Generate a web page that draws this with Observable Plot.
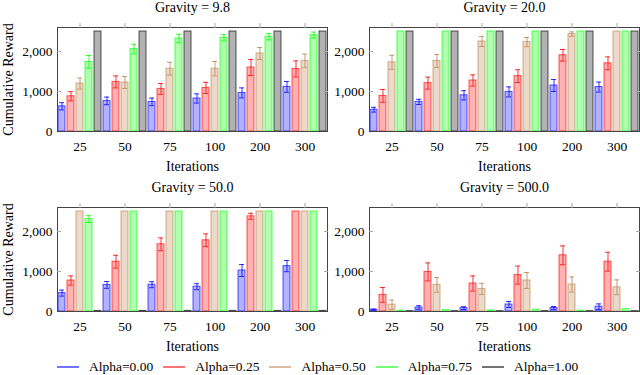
<!DOCTYPE html>
<html><head><meta charset="utf-8">
<script src="https://cdn.jsdelivr.net/npm/d3@7"></script>
<script src="https://cdn.jsdelivr.net/npm/@observablehq/plot@0.6"></script>
<style>
body{margin:0;background:#fff;}
#chart{position:relative;width:640px;height:375px;overflow:hidden;font-family:"Liberation Serif",serif;background:#fff;}
.panel{position:absolute;}
#legend{position:absolute;left:57px;top:358px;height:18px;display:flex;align-items:center;font-size:13.5px;color:#000;white-space:nowrap;}
#legend .item{display:flex;align-items:center;margin-right:10px;}
#legend .sw{display:inline-block;width:22px;height:1.5px;margin-right:10px;opacity:0.55;}
</style></head><body><div id="chart"><div id="legend"></div></div>
<script>
const iterations = ["25", "50", "75", "100", "200", "300"];
const alphas = ["0.00", "0.25", "0.50", "0.75", "1.00"];
const gravities = ["9.8", "20.0", "50.0", "500.0"];
const seriesColors = ["#0000ff", "#ff0000", "#bd8550", "#00ff00", "#000000"];
const yTicks = [0, 1000, 2000];

// mean reward, one row per alpha (0.00 .. 1.00), one column per iteration
const mean_9_8 = [
  [630, 765, 740, 825, 965, 1115],
  [880, 1240, 1065, 1090, 1600, 1565],
  [1200, 1225, 1570, 1570, 1950, 1765],
  [1740, 2060, 2325, 2345, 2370, 2410],
  [2500, 2500, 2500, 2500, 2500, 2500]
];
const err_9_8 = [
  [90, 95, 95, 115, 125, 135],
  [115, 150, 135, 140, 200, 200],
  [140, 150, 160, 180, 150, 170],
  [160, 120, 105, 80, 80, 75],
  [0, 0, 0, 0, 0, 0]
];
const mean_20 = [
  [545, 740, 905, 990, 1150, 1110],
  [890, 1210, 1275, 1385, 1905, 1705],
  [1730, 1765, 2250, 2235, 2435, 2500],
  [2500, 2500, 2500, 2500, 2500, 2500],
  [2500, 2500, 2500, 2500, 2500, 2500]
];
const err_20 = [
  [60, 65, 115, 125, 150, 125],
  [160, 150, 140, 160, 145, 160],
  [175, 160, 125, 115, 55, 0],
  [0, 0, 0, 0, 0, 0],
  [0, 0, 0, 0, 0, 0]
];
const mean_50 = [
  [460, 665, 670, 620, 1025, 1135],
  [775, 1245, 1680, 1780, 2380, 2500],
  [2500, 2500, 2500, 2500, 2500, 2500],
  [2310, 2500, 2500, 2500, 2500, 2500],
  [15, 15, 15, 15, 15, 15]
];
const err_50 = [
  [75, 85, 75, 75, 150, 140],
  [115, 160, 160, 160, 75, 0],
  [0, 0, 0, 0, 0, 0],
  [85, 0, 0, 0, 0, 0],
  [0, 0, 0, 0, 0, 0]
];
const mean_500 = [
  [45, 100, 85, 175, 90, 120],
  [415, 990, 700, 910, 1405, 1245],
  [170, 665, 565, 775, 675, 605],
  [20, 35, 25, 45, 20, 60],
  [10, 10, 10, 10, 10, 10]
];
const err_500 = [
  [15, 45, 35, 75, 35, 70],
  [185, 225, 190, 225, 235, 235],
  [115, 185, 140, 200, 190, 185],
  [0, 0, 0, 0, 0, 0],
  [0, 0, 0, 0, 0, 0]
];

const means = [mean_9_8, mean_20, mean_50, mean_500];
const errs = [err_9_8, err_20, err_50, err_500];

const keyOf = (it, al) => it + "|" + al;
const keys = iterations.flatMap(it => alphas.map(al => keyOf(it, al)));
const centerKeys = iterations.map(it => keyOf(it, alphas[2]));

const chart = document.getElementById("chart");

gravities.forEach((g, gi) => {
  const col = gi % 2, row = Math.floor(gi / 2);
  const rows = [];
  alphas.forEach((al, ai) => iterations.forEach((it, ii) => {
    rows.push({key: keyOf(it, al), iter: it, alpha: al, v: means[gi][ai][ii], e: errs[gi][ai][ii]});
  }));
  const errRows = rows.filter(d => d.e > 0);
  const plot = Plot.plot({
    width: col ? 310 : 330,
    height: 180,
    marginLeft: col ? 39 : 57,
    marginRight: col ? 1 : 3,
    marginTop: 27,
    marginBottom: 49,
    style: {fontFamily: "'Liberation Serif', serif", fontSize: "13px", background: "transparent", overflow: "visible", color: "#000"},
    x: {type: "band", domain: keys, paddingInner: 0.22, paddingOuter: 0.11, label: null},
    y: {domain: [0, 2600], label: null},
    color: {type: "ordinal", domain: alphas, range: seriesColors},
    marks: [
      Plot.barY(rows, {x: "key", y1: 0, y2: "v", fill: "alpha", fillOpacity: 0.3, stroke: "alpha", strokeOpacity: 0.65}),
      Plot.ruleX(errRows, {x: "key", y1: d => d.v - d.e, y2: d => d.v + d.e, stroke: "alpha", strokeOpacity: 0.8}),
      Plot.tickY(errRows, {x: "key", y: d => d.v + d.e, stroke: "alpha", strokeOpacity: 0.8, insetLeft: 1, insetRight: 1}),
      Plot.tickY(errRows, {x: "key", y: d => d.v - d.e, stroke: "alpha", strokeOpacity: 0.8, insetLeft: 1, insetRight: 1}),
      Plot.frame({stroke: "#444"}),
      Plot.axisX({anchor: "bottom", ticks: centerKeys, tickSize: 0, tickPadding: 10, fontSize: 13.5, tickFormat: k => k.split("|")[0], label: null}),
      Plot.axisX({anchor: "top", ticks: centerKeys, tickSize: 5, tickFormat: () => "", stroke: "#aaa", label: null}),
      Plot.axisY({anchor: "left", ticks: yTicks, tickSize: 0, tickPadding: 5, fontSize: 13.5, tickFormat: d3.format(","), label: null}),
      Plot.axisY({anchor: "left", ticks: [1000, 2000], tickSize: 4, dx: 4, tickFormat: () => "", stroke: "#aaa", label: null}),
      Plot.axisY({anchor: "right", ticks: [1000, 2000], tickSize: 4, dx: -4, tickFormat: () => "", stroke: "#aaa", label: null}),
      Plot.text([`Gravity = ${g}`], {frameAnchor: "top", lineAnchor: "middle", textAnchor: "middle", dy: -20, fontSize: 14}),
      Plot.text(["Iterations"], {frameAnchor: "bottom", lineAnchor: "middle", textAnchor: "middle", dy: 35, fontSize: 14}),
      col === 0 ? Plot.text(["Cumulative Reward"], {frameAnchor: "left", textAnchor: "middle", lineAnchor: "middle", rotate: -90, dx: -49, fontSize: 14}) : null
    ]
  });
  const wrap = document.createElement("div");
  wrap.className = "panel";
  wrap.style.left = (col ? 330 : 0) + "px";
  wrap.style.top = (row * 180) + "px";
  wrap.appendChild(plot);
  chart.appendChild(wrap);
});

const legend = document.getElementById("legend");
alphas.forEach((al, i) => {
  const item = document.createElement("div");
  item.className = "item";
  const sw = document.createElement("span");
  sw.className = "sw";
  sw.style.background = seriesColors[i];
  const label = document.createElement("span");
  label.textContent = "Alpha=" + al;
  item.appendChild(sw);
  item.appendChild(label);
  legend.appendChild(item);
});
</script></body></html>
